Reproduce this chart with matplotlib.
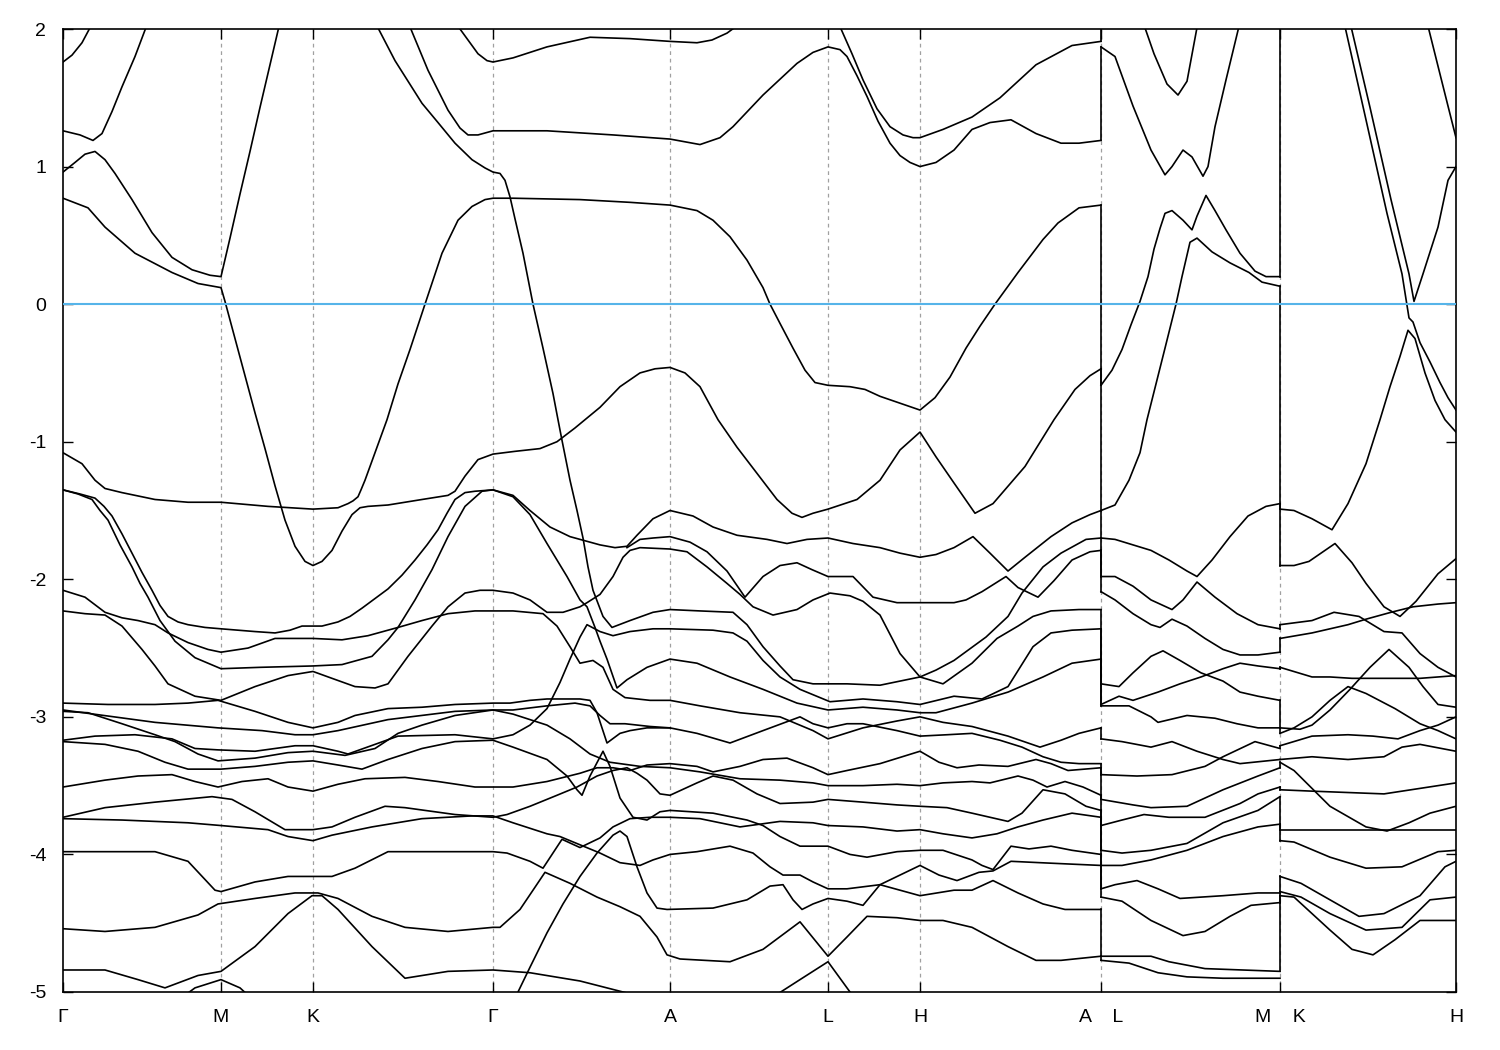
import numpy as np
import matplotlib
matplotlib.use("Agg")
import matplotlib.pyplot as plt

# k-path positions of the high symmetry points (path length, arb. units)
HSYM_K = [63, 221, 313, 493, 670, 828, 920, 1101, 1280, 1456]
HSYM_LABELS = ["Γ", "M", "K", "Γ", "A", "L", "H", "A    L", "M    K", "H"]
E_TICKS = [-5, -4, -3, -2, -1, 0, 1, 2]
SEAMS = [1101, 1280]          # path is broken here (A|L and M|K)

# ---------------------------------------------------------------
# bands of the first part of the path  Γ-M-K-Γ-A-L-H-A  (k, E in eV)
# ---------------------------------------------------------------
bands_gamma = [
    [(63,1.76),(72,1.81),(82,1.90),(93,2.05)],
    [(455,2.05),(470,1.90),(478,1.82),(487,1.77),(493,1.76),(513,1.79),(547,1.87),(590,1.94),(630,1.93),
     (670,1.91),(697,1.90),(712,1.92),(727,1.97),(742,2.05)],
    [(63,1.26),(80,1.23),(93,1.19),(102,1.24),(112,1.40),(122,1.58),(135,1.80),(148,2.05)],
    [(408,2.05),(428,1.70),(448,1.41),(460,1.28),(468,1.23),(478,1.23),(493,1.26),(547,1.26),(613,1.23),
     (670,1.20),(700,1.16),(720,1.21),(733,1.29),(763,1.52),(797,1.75),(813,1.83),(828,1.87),(840,1.85),
     (847,1.80),(857,1.66),(867,1.51),(878,1.33),(890,1.17),(900,1.08),(910,1.03),(920,1.00),(936,1.03),
     (954,1.12),(972,1.27),(990,1.32),(1011,1.34),(1036,1.24),(1061,1.17),(1079,1.17),(1101,1.19)],
    [(838,2.05),(852,1.82),(863,1.63),(877,1.42),(890,1.29),(903,1.23),(913,1.21),(920,1.21),(943,1.27),
     (972,1.36),(1000,1.50),(1036,1.74),(1072,1.88),(1101,1.91)],
    [(63,0.96),(75,1.03),(85,1.09),(95,1.11),(105,1.05),(115,0.95),(132,0.76),(152,0.52),(172,0.34),
     (192,0.25),(210,0.21),(221,0.20),(230,0.48),(240,0.80),(250,1.11),(260,1.43),(270,1.74),(280,2.05)],
    [(375,2.05),(395,1.77),(422,1.46),(438,1.32),(455,1.17),(472,1.05),(485,0.99),(493,0.96),(500,0.95),
     (505,0.90),(510,0.78),(515,0.62),(523,0.37),(533,0.0),(543,-0.32),(553,-0.65),(558,-0.84),(562,-0.99),
     (570,-1.28),(577,-1.50),(583,-1.70),(588,-1.91),(593,-2.08),(603,-2.27),(612,-2.35),(630,-2.30),
     (653,-2.24),(670,-2.22),(700,-2.23),(733,-2.24),(747,-2.33),(763,-2.49),(780,-2.63),(793,-2.73),
     (813,-2.76),(847,-2.76),(880,-2.77),(900,-2.74),(920,-2.71),(936,-2.66),(954,-2.59),(986,-2.42),
     (1008,-2.27),(1022,-2.10),(1043,-1.91),(1061,-1.81),(1086,-1.71),(1101,-1.70)],
    [(63,-1.08),(82,-1.16),(95,-1.28),(105,-1.34),(122,-1.37),(155,-1.42),(188,-1.44),(221,-1.44),
     (268,-1.47),(313,-1.49),(338,-1.48),(348,-1.45),(353,-1.43),(358,-1.40),(361,-1.35),(365,-1.28),
     (370,-1.18),(375,-1.08),(387,-0.84),(398,-0.58),(410,-0.33),(425,0.0),(442,0.37),(458,0.61),(472,0.71),
     (485,0.76),(493,0.77),(513,0.77),(580,0.76),(630,0.74),(670,0.72),(697,0.68),(713,0.61),(730,0.49),
     (747,0.32),(763,0.12),(770,0.0),(780,-0.14),(793,-0.32),(805,-0.48),(815,-0.57),(828,-0.59),
     (850,-0.60),(865,-0.62),(880,-0.67),(900,-0.72),(920,-0.77),(935,-0.68),(950,-0.53),(966,-0.32),
     (980,-0.16),(995,0.0),(1018,0.23),(1043,0.47),(1058,0.59),(1079,0.70),(1101,0.72)],
    [(63,0.77),(88,0.70),(105,0.56),(135,0.37),(172,0.23),(198,0.15),(221,0.12),(225,0.02),(235,-0.25),
     (245,-0.52),(255,-0.79),(265,-1.05),(275,-1.32),(285,-1.57),(295,-1.76),(305,-1.87),(313,-1.90),
     (322,-1.87),(332,-1.79),(342,-1.65),(352,-1.53),(360,-1.48),(368,-1.47),(388,-1.46),(422,-1.42),
     (448,-1.39),(455,-1.36),(465,-1.25),(478,-1.13),(493,-1.09),(515,-1.07),(540,-1.05),(557,-1.00),
     (575,-0.90),(600,-0.75),(620,-0.60),(640,-0.50),(655,-0.47),(670,-0.46),(685,-0.50),(700,-0.60),
     (718,-0.84),(737,-1.04),(757,-1.23),(777,-1.42),(792,-1.52),(802,-1.55),(813,-1.52),(828,-1.49),
     (857,-1.42),(880,-1.28),(900,-1.06),(920,-0.93),(936,-1.11),(954,-1.30),(975,-1.52),(993,-1.45),
     (1025,-1.18),(1054,-0.84),(1075,-0.62),(1090,-0.52),(1101,-0.47)],
    [(63,-1.35),(80,-1.38),(95,-1.41),(104,-1.47),(112,-1.54),(122,-1.67),(132,-1.81),(142,-1.95),
     (152,-2.08),(160,-2.19),(168,-2.27),(178,-2.31),(188,-2.33),(205,-2.35),(221,-2.36),(255,-2.38),
     (275,-2.39),(290,-2.37),(302,-2.34),(322,-2.34),(338,-2.31),(350,-2.27),(362,-2.21),(375,-2.14),
     (388,-2.07),(402,-1.97),(415,-1.86),(427,-1.75),(438,-1.64),(447,-1.52),(455,-1.42),(465,-1.37),
     (475,-1.36),(493,-1.35),(513,-1.39),(530,-1.50),(550,-1.62),(570,-1.69),(585,-1.72),(600,-1.75),
     (615,-1.77),(627,-1.76),(637,-1.68),(653,-1.56),(670,-1.50),(693,-1.54),(713,-1.62),(737,-1.68),
     (767,-1.71),(787,-1.74),(807,-1.71),(828,-1.70),(853,-1.74),(880,-1.77),(900,-1.81),(920,-1.84),
     (936,-1.82),(954,-1.77),(973,-1.69),(990,-1.81),(1008,-1.94),(1025,-1.84),(1051,-1.69),(1072,-1.59),
     (1090,-1.53),(1101,-1.50)],
    [(63,-1.35),(78,-1.38),(92,-1.42),(100,-1.50),(108,-1.57),(120,-1.75),(132,-1.91),(140,-2.03),
     (148,-2.13),(160,-2.30),(175,-2.45),(195,-2.57),(221,-2.65),(260,-2.64),(313,-2.63),(342,-2.62),
     (372,-2.56),(388,-2.44),(398,-2.35),(415,-2.15),(432,-1.93),(448,-1.69),(465,-1.47),(482,-1.36),
     (493,-1.35),(513,-1.40),(530,-1.53),(547,-1.74),(567,-1.98),(580,-2.15),(587,-2.20),(595,-2.35),
     (600,-2.45),(607,-2.58),(617,-2.79),(627,-2.73),(647,-2.64),(670,-2.58),(697,-2.61),(730,-2.71),
     (763,-2.80),(797,-2.90),(828,-2.95),(863,-2.93),(897,-2.95),(920,-2.97),(936,-2.97),(972,-2.90),
     (1008,-2.82),(1043,-2.71),(1072,-2.61),(1101,-2.58)],
    [(63,-2.23),(85,-2.25),(105,-2.26),(122,-2.34),(142,-2.51),(155,-2.63),(168,-2.76),(195,-2.85),
     (221,-2.88),(255,-2.78),(288,-2.70),(313,-2.67),(332,-2.72),(355,-2.78),(375,-2.79),(388,-2.76),
     (408,-2.56),(432,-2.34),(448,-2.20),(465,-2.10),(480,-2.08),(493,-2.08),(513,-2.10),(530,-2.15),
     (547,-2.24),(563,-2.24),(580,-2.20),(587,-2.17),(600,-2.11),(613,-1.98),(623,-1.84),(630,-1.79),
     (640,-1.77),(670,-1.78),(687,-1.80),(707,-1.91),(727,-2.03),(740,-2.11),(753,-2.20),(773,-2.26),
     (797,-2.22),(813,-2.15),(830,-2.10),(850,-2.12),(863,-2.16),(880,-2.26),(900,-2.54),(920,-2.71),
     (943,-2.76),(972,-2.61),(997,-2.43),(1018,-2.34),(1033,-2.27),(1051,-2.23),(1079,-2.22),(1101,-2.22)],
    [(63,-2.08),(85,-2.13),(105,-2.24),(122,-2.28),(138,-2.30),(155,-2.33),(168,-2.39),(188,-2.46),
     (208,-2.51),(221,-2.53),(248,-2.50),(275,-2.43),(313,-2.43),(342,-2.44),(368,-2.41),(398,-2.35),
     (422,-2.30),(448,-2.25),(475,-2.23),(493,-2.23),(513,-2.23),(543,-2.25),(557,-2.34),(570,-2.49),
     (580,-2.61),(593,-2.59),(603,-2.64),(613,-2.80),(625,-2.86),(650,-2.88),(670,-2.88),(700,-2.92),
     (740,-2.97),(780,-3.00),(813,-3.10),(828,-3.16),(863,-3.08),(897,-3.03),(920,-3.00),(943,-3.04),
     (972,-3.07),(1008,-3.14),(1040,-3.22),(1061,-3.17),(1079,-3.12),(1101,-3.08)],
    [(627,-1.77),(640,-1.71),(653,-1.70),(670,-1.69),(690,-1.73),(707,-1.80),(727,-1.94),(745,-2.13),
     (763,-1.98),(780,-1.90),(797,-1.88),(812,-1.93),(828,-1.98),(853,-1.98),(873,-2.13),(897,-2.17),
     (920,-2.17),(954,-2.17),(966,-2.15),(982,-2.09),(1006,-1.98),(1018,-2.06),(1038,-2.13),(1054,-2.01),
     (1072,-1.86),(1090,-1.80),(1101,-1.79)],
    [(63,-2.90),(108,-2.91),(155,-2.91),(188,-2.90),(218,-2.88),(255,-2.96),(288,-3.04),(313,-3.08),
     (338,-3.04),(355,-2.99),(388,-2.94),(422,-2.93),(455,-2.91),(493,-2.90),(510,-2.90),(530,-2.88),
     (547,-2.87),(567,-2.87),(580,-2.87),(590,-2.88),(597,-2.97),(607,-3.19),(620,-3.12),(630,-3.10),
     (647,-3.08),(670,-3.08),(697,-3.12),(730,-3.19),(763,-3.10),(800,-3.00),(813,-3.05),(828,-3.08),
     (847,-3.05),(863,-3.05),(897,-3.10),(920,-3.14),(947,-3.13),(972,-3.12),(1000,-3.17),(1022,-3.22),
     (1043,-3.29),(1061,-3.33),(1079,-3.34),(1101,-3.34)],
    [(63,-2.95),(155,-3.04),(218,-3.08),(262,-3.10),(295,-3.13),(313,-3.13),(338,-3.10),(388,-3.02),
     (455,-2.96),(493,-2.95),(513,-2.95),(547,-2.92),(575,-2.90),(590,-2.92),(600,-2.99),(610,-3.05),
     (625,-3.05),(650,-3.07),(670,-3.08)],
    [(63,-2.96),(88,-2.97),(122,-3.05),(155,-3.13),(175,-3.18),(198,-3.27),(218,-3.32),(255,-3.30),
     (288,-3.26),(313,-3.25),(345,-3.28),(375,-3.23),(398,-3.12),(422,-3.06),(455,-2.99),(493,-2.95),
     (513,-2.98),(547,-3.06),(570,-3.16),(590,-3.27),(610,-3.33),(640,-3.36),(670,-3.37),(700,-3.40),
     (740,-3.45),(780,-3.46),(813,-3.48),(828,-3.50),(863,-3.50),(897,-3.49),(920,-3.50),(943,-3.48),
     (972,-3.47),(990,-3.48),(1018,-3.43),(1033,-3.46),(1047,-3.51),(1065,-3.47),(1083,-3.51),(1101,-3.57)],
    [(63,-3.17),(95,-3.14),(135,-3.13),(172,-3.16),(195,-3.23),(218,-3.24),(255,-3.25),(295,-3.21),
     (313,-3.21),(338,-3.25),(348,-3.27),(375,-3.20),(398,-3.14),(455,-3.13),(493,-3.16),(513,-3.13),
     (530,-3.06),(547,-2.94),(560,-2.75),(570,-2.58),(580,-2.42),(587,-2.33),(600,-2.38),(613,-2.41),
     (630,-2.38),(653,-2.36),(670,-2.36),(713,-2.37),(733,-2.39),(747,-2.45),(763,-2.59),(780,-2.71),
     (800,-2.80),(830,-2.89),(863,-2.87),(897,-2.89),(920,-2.91),(954,-2.85),(982,-2.87),(1008,-2.78),
     (1033,-2.49),(1051,-2.39),(1072,-2.37),(1101,-2.36)],
    [(63,-3.18),(105,-3.20),(138,-3.25),(165,-3.33),(188,-3.38),(221,-3.38),(255,-3.36),(288,-3.33),
     (313,-3.32),(338,-3.35),(362,-3.38),(388,-3.31),(422,-3.23),(455,-3.18),(493,-3.17),(513,-3.22),
     (547,-3.31),(567,-3.43),(577,-3.53),(582,-3.57),(590,-3.43),(603,-3.25),(610,-3.36),(620,-3.59),
     (633,-3.73),(647,-3.75),(660,-3.69),(670,-3.68),(713,-3.70),(747,-3.75),(763,-3.79),(780,-3.87),
     (800,-3.94),(828,-3.94),(850,-4.00),(867,-4.02),(897,-3.98),(920,-3.97),(943,-3.97),(972,-4.04),
     (982,-4.08),(993,-4.11),(1011,-3.94),(1029,-3.96),(1051,-3.94),(1072,-3.97),(1101,-4.00)],
    [(63,-3.51),(105,-3.46),(138,-3.43),(172,-3.42),(195,-3.47),(218,-3.51),(242,-3.47),(268,-3.45),
     (288,-3.51),(313,-3.54),(338,-3.49),(365,-3.45),(405,-3.44),(438,-3.47),(475,-3.51),(493,-3.51),
     (513,-3.51),(547,-3.47),(580,-3.41),(597,-3.37),(613,-3.37),(630,-3.39),(647,-3.35),(670,-3.34),
     (697,-3.36),(713,-3.40),(740,-3.36),(763,-3.31),(787,-3.30),(813,-3.37),(828,-3.42),(847,-3.39),
     (880,-3.34),(920,-3.25),(939,-3.33),(957,-3.37),(979,-3.35),(1008,-3.36),(1036,-3.31),(1051,-3.34),
     (1068,-3.39),(1101,-3.37)],
    [(63,-3.73),(105,-3.66),(155,-3.62),(212,-3.58),(232,-3.60),(255,-3.69),(285,-3.82),(313,-3.82),
     (332,-3.80),(355,-3.73),(385,-3.65),(405,-3.66),(455,-3.71),(493,-3.73),(507,-3.71),(530,-3.65),
     (557,-3.57),(577,-3.51),(597,-3.43),(613,-3.39),(627,-3.37),(637,-3.41),(647,-3.46),(660,-3.56),
     (670,-3.57),(697,-3.48),(713,-3.43),(733,-3.46),(757,-3.56),(780,-3.63),(813,-3.62),(828,-3.60),
     (863,-3.62),(897,-3.64),(920,-3.65),(947,-3.66),(972,-3.70),(1008,-3.76),(1022,-3.70),(1043,-3.53),
     (1065,-3.56),(1086,-3.65),(1101,-3.68)],
    [(63,-3.74),(122,-3.75),(188,-3.77),(221,-3.79),(268,-3.82),(288,-3.87),(313,-3.90),(332,-3.86),
     (372,-3.80),(422,-3.74),(472,-3.72),(493,-3.72),(513,-3.77),(547,-3.85),(560,-3.87),(580,-3.93),
     (600,-3.99),(620,-4.06),(640,-4.08),(653,-4.04),(670,-4.00),(697,-3.98),(730,-3.94),(753,-3.99),
     (770,-4.09),(783,-4.15),(800,-4.15),(813,-4.20),(828,-4.25),(847,-4.25),(880,-4.22),(920,-4.30),
     (954,-4.26),(972,-4.26),(993,-4.19),(1018,-4.28),(1043,-4.36),(1065,-4.40),(1101,-4.40)],
    [(63,-3.98),(155,-3.98),(188,-4.05),(215,-4.26),(221,-4.27),(255,-4.20),(288,-4.16),(332,-4.16),
     (355,-4.10),(388,-3.98),(493,-3.98),(507,-3.99),(530,-4.05),(543,-4.10),(562,-3.89),(580,-3.95),
     (600,-3.88),(613,-3.80),(630,-3.74),(650,-3.73),(670,-3.73),(700,-3.74),(740,-3.80),(780,-3.76),
     (813,-3.77),(828,-3.79),(863,-3.80),(897,-3.83),(920,-3.82),(943,-3.85),(972,-3.88),(997,-3.85),
     (1018,-3.80),(1043,-3.75),(1072,-3.70),(1101,-3.73)],
    [(63,-4.54),(105,-4.56),(155,-4.53),(198,-4.44),(218,-4.36),(255,-4.32),(295,-4.28),(318,-4.28),
     (338,-4.32),(372,-4.45),(405,-4.53),(448,-4.56),(493,-4.53),(500,-4.53),(520,-4.40),(533,-4.26),
     (545,-4.13),(570,-4.21),(597,-4.31),(620,-4.38),(640,-4.45),(657,-4.60),(667,-4.73),(680,-4.76),
     (730,-4.78),(763,-4.69),(800,-4.49),(828,-4.74),(847,-4.60),(867,-4.45),(897,-4.46),(920,-4.48),
     (943,-4.48),(972,-4.53),(1008,-4.67),(1036,-4.77),(1061,-4.77),(1101,-4.74)],
    [(63,-4.84),(105,-4.84),(138,-4.91),(165,-4.97),(198,-4.88),(221,-4.85),(255,-4.67),(288,-4.43),
     (312,-4.30),(322,-4.30),(338,-4.40),(372,-4.67),(405,-4.90),(448,-4.85),(493,-4.84),(530,-4.86),
     (580,-4.92),(623,-5.0),(650,-5.05)],
    [(180,-5.05),(195,-4.97),(221,-4.91),(240,-4.97),(252,-5.05)],
    [(515,-5.05),(518,-5.0),(530,-4.82),(547,-4.57),(563,-4.36),(580,-4.16),(597,-3.99),(613,-3.86),
     (620,-3.83),(627,-3.87),(637,-4.09),(647,-4.28),(657,-4.39),(667,-4.40),(713,-4.39),(747,-4.33),
     (770,-4.23),(783,-4.22),(793,-4.33),(802,-4.40),(813,-4.36),(828,-4.32),(847,-4.34),(863,-4.37),
     (880,-4.22),(900,-4.15),(920,-4.08),(939,-4.15),(957,-4.19),(979,-4.13),(993,-4.12),(1011,-4.05),
     (1040,-4.06),(1070,-4.07),(1101,-4.08)],
    [(770,-5.05),(800,-4.91),(828,-4.78),(855,-5.05)],
]

# ---------------------------------------------------------------
# bands of the L-M part of the path
# ---------------------------------------------------------------
bands_lm = [
    [(1101,1.87),(1115,1.80),(1133,1.44),(1151,1.12),(1165,0.94),(1172,1.00),(1183,1.12),(1192,1.07),
     (1203,0.93),(1208,1.00),(1215,1.29),(1226,1.63),(1240,2.05)],
    [(1143,2.05),(1154,1.82),(1167,1.60),(1178,1.52),(1187,1.62),(1198,2.05)],
    [(1101,-0.59),(1112,-0.48),(1122,-0.33),(1131,-0.15),(1140,0.02),(1148,0.20),(1154,0.40),(1160,0.55),
     (1165,0.66),(1172,0.68),(1183,0.61),(1192,0.54),(1197,0.64),(1206,0.79),(1215,0.68),(1226,0.54),
     (1240,0.37),(1255,0.24),(1266,0.20),(1280,0.20)],
    [(1101,-1.50),(1115,-1.46),(1129,-1.28),(1140,-1.08),(1147,-0.84),(1156,-0.58),(1165,-0.32),(1176,0.0),
     (1182,0.20),(1190,0.45),(1197,0.48),(1212,0.38),(1230,0.30),(1249,0.23),(1262,0.16),(1280,0.13)],
    [(1101,-1.70),(1115,-1.71),(1133,-1.75),(1151,-1.79),(1169,-1.86),(1187,-1.94),(1197,-1.98),
     (1212,-1.86),(1230,-1.69),(1248,-1.54),(1266,-1.47),(1280,-1.45)],
    [(1101,-1.98),(1115,-1.98),(1133,-2.05),(1151,-2.15),(1172,-2.22),(1183,-2.15),(1197,-2.02),
     (1215,-2.13),(1237,-2.25),(1258,-2.33),(1280,-2.36)],
    [(1101,-2.09),(1115,-2.15),(1133,-2.25),(1151,-2.33),(1160,-2.35),(1172,-2.29),(1187,-2.34),
     (1205,-2.43),(1223,-2.51),(1240,-2.55),(1258,-2.55),(1280,-2.53)],
    [(1101,-2.76),(1119,-2.78),(1133,-2.68),(1151,-2.56),(1163,-2.52),(1180,-2.59),(1201,-2.68),
     (1223,-2.74),(1240,-2.82),(1258,-2.85),(1280,-2.88)],
    [(1101,-2.91),(1119,-2.85),(1133,-2.88),(1158,-2.82),(1180,-2.76),(1201,-2.71),(1223,-2.65),
     (1240,-2.61),(1258,-2.63),(1280,-2.65)],
    [(1101,-2.92),(1129,-2.92),(1151,-3.00),(1158,-3.04),(1187,-2.99),(1215,-3.01),(1237,-3.05),
     (1258,-3.08),(1280,-3.08)],
    [(1101,-3.16),(1122,-3.18),(1151,-3.22),(1172,-3.18),(1197,-3.25),(1223,-3.31),(1240,-3.34),(1280,-3.31)],
    [(1101,-3.42),(1137,-3.43),(1172,-3.42),(1205,-3.36),(1223,-3.29),(1255,-3.18),(1280,-3.23)],
    [(1101,-3.60),(1133,-3.64),(1151,-3.66),(1187,-3.65),(1223,-3.53),(1258,-3.43),(1280,-3.37)],
    [(1101,-3.79),(1122,-3.75),(1144,-3.71),(1169,-3.73),(1205,-3.73),(1240,-3.63),(1258,-3.56),(1280,-3.51)],
    [(1101,-3.97),(1122,-3.99),(1151,-3.97),(1187,-3.92),(1223,-3.77),(1258,-3.68),(1280,-3.58)],
    [(1101,-4.08),(1122,-4.08),(1151,-4.04),(1187,-3.97),(1223,-3.87),(1258,-3.80),(1280,-3.78)],
    [(1101,-4.25),(1115,-4.22),(1137,-4.19),(1158,-4.25),(1180,-4.32),(1223,-4.30),(1258,-4.28),(1280,-4.28)],
    [(1101,-4.31),(1122,-4.34),(1151,-4.48),(1183,-4.59),(1205,-4.56),(1230,-4.45),(1251,-4.37),(1280,-4.35)],
    [(1101,-4.74),(1151,-4.74),(1169,-4.78),(1205,-4.83),(1280,-4.85)],
    [(1101,-4.77),(1129,-4.79),(1158,-4.86),(1187,-4.89),(1223,-4.90),(1280,-4.90)],
]

# ---------------------------------------------------------------
# bands of the K-H part of the path
# ---------------------------------------------------------------
bands_kh = [
    [(1344,2.05),(1366,1.34),(1387,0.66),(1402,0.22),(1409,-0.10),(1413,-0.13),(1420,-0.28),(1430,-0.42),
     (1440,-0.57),(1448,-0.68),(1456,-0.77)],
    [(1350,2.05),(1370,1.43),(1391,0.76),(1409,0.22),(1414,0.02),(1423,0.22),(1438,0.56),(1448,0.90),(1456,1.00)],
    [(1427,2.05),(1438,1.73),(1448,1.44),(1456,1.21)],
    [(1280,-1.49),(1294,-1.50),(1312,-1.56),(1332,-1.64),(1348,-1.45),(1366,-1.16),(1380,-0.84),(1390,-0.60),
     (1400,-0.38),(1408,-0.19),(1415,-0.25),(1425,-0.50),(1435,-0.70),(1445,-0.84),(1456,-0.93)],
    [(1280,-1.90),(1294,-1.90),(1309,-1.87),(1321,-1.81),(1335,-1.74),(1352,-1.88),(1366,-2.03),(1384,-2.20),
     (1400,-2.27),(1416,-2.16),(1438,-1.96),(1456,-1.85)],
    [(1280,-2.33),(1312,-2.30),(1334,-2.24),(1359,-2.27),(1384,-2.38),(1402,-2.39),(1420,-2.54),(1438,-2.64),(1456,-2.71)],
    [(1280,-2.43),(1312,-2.39),(1348,-2.33),(1366,-2.29),(1391,-2.24),(1413,-2.20),(1438,-2.18),(1456,-2.17)],
    [(1280,-2.64),(1312,-2.71),(1330,-2.71),(1352,-2.72),(1384,-2.72),(1420,-2.72),(1456,-2.70)],
    [(1280,-3.08),(1300,-3.09),(1312,-3.06),(1330,-2.95),(1350,-2.80),(1370,-2.64),(1389,-2.51),(1409,-2.64),
     (1423,-2.78),(1438,-2.91),(1456,-2.93)],
    [(1280,-3.12),(1294,-3.08),(1312,-3.00),(1330,-2.88),(1348,-2.78),(1366,-2.83),(1395,-2.94),(1420,-3.05),
     (1438,-3.10),(1456,-3.16)],
    [(1280,-3.21),(1312,-3.14),(1348,-3.13),(1373,-3.14),(1398,-3.16),(1420,-3.10),(1438,-3.06),(1456,-3.00)],
    [(1280,-3.31),(1312,-3.29),(1348,-3.31),(1384,-3.29),(1402,-3.22),(1420,-3.20),(1456,-3.25)],
    [(1280,-3.33),(1294,-3.39),(1330,-3.65),(1366,-3.80),(1387,-3.83),(1409,-3.77),(1430,-3.70),(1456,-3.65)],
    [(1280,-3.53),(1312,-3.54),(1348,-3.55),(1384,-3.56),(1420,-3.52),(1456,-3.48)],
    [(1280,-3.82),(1350,-3.82),(1400,-3.82),(1456,-3.82)],
    [(1280,-3.90),(1294,-3.91),(1330,-4.02),(1366,-4.10),(1402,-4.09),(1438,-3.98),(1456,-3.97)],
    [(1280,-4.16),(1301,-4.21),(1330,-4.33),(1359,-4.45),(1384,-4.43),(1420,-4.30),(1445,-4.09),(1456,-4.05)],
    [(1280,-4.27),(1301,-4.31),(1330,-4.43),(1366,-4.55),(1402,-4.53),(1430,-4.33),(1456,-4.31)],
    [(1280,-4.30),(1294,-4.31),(1330,-4.55),(1352,-4.69),(1373,-4.73),(1395,-4.62),(1420,-4.48),(1456,-4.48)],
]

plt.rcParams['font.family'] = ['Liberation Sans', 'DejaVu Sans']

fig = plt.figure(figsize=(15, 10.5), dpi=100)
ax = fig.add_axes([63/1500, 1 - 992/1050, (1456 - 63)/1500, (992 - 29)/1050])

# thin dotted guides at the inner high-symmetry points
for k in HSYM_K[1:-1]:
    ax.axvline(k, color='#a0a0a0', lw=0.9, ls=(0, (3, 3)), zorder=0)

for part in (bands_gamma, bands_lm, bands_kh):
    for band in part:
        pts = np.array(band)
        ax.plot(pts[:, 0], pts[:, 1], color='black', lw=1.2, zorder=2,
                solid_joinstyle='round')

# the path jumps at A|L and M|K: connect band n on the left with band n on the right,
# the right side has one more band above the window
def seam_lines(left, right, k, extra_top=1):
    lv = sorted([b[-1][1] for b in left if b[-1][0] == k], reverse=True)
    rv = sorted([b[0][1] for b in right if b[0][0] == k], reverse=True)
    rv = [3.0] * extra_top + rv
    for a, b in zip(lv, rv):
        ax.plot([k, k], [a, b], color='black', lw=1.2, zorder=2)

seam_lines(bands_gamma, bands_lm, SEAMS[0])
seam_lines(bands_lm, bands_kh, SEAMS[1])

# Fermi level
ax.axhline(0, color='#56b4e9', lw=1.5, zorder=3)

ax.set_xlim(HSYM_K[0], HSYM_K[-1])
ax.set_ylim(-5, 2)
ax.set_xticks(HSYM_K)
ax.set_xticklabels(HSYM_LABELS)
ax.set_yticks(E_TICKS)
ax.set_yticklabels([str(v) for v in E_TICKS])
ax.tick_params(direction='in', length=7, width=1, top=True, right=True, labelsize=14)
ax.tick_params(axis='y', pad=12)
ax.tick_params(axis='x', pad=12)
for s in ax.spines.values():
    s.set_linewidth(1.2)

fig.savefig('out.png', dpi=100)
